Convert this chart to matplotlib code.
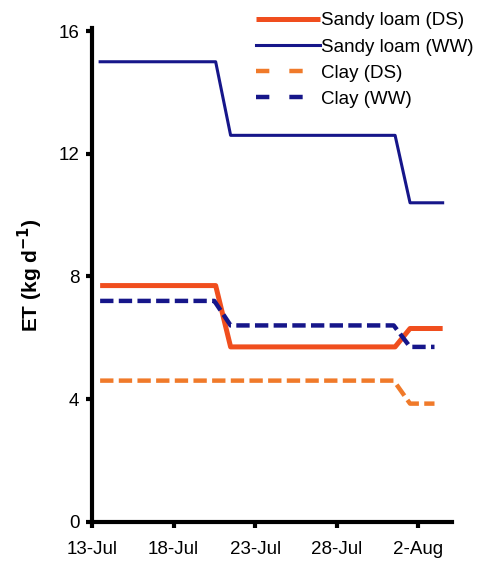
import matplotlib
matplotlib.use("Agg")
import matplotlib.pyplot as plt
import pandas as pd

plt.rcParams['font.family'] = ['Liberation Sans', 'DejaVu Sans']

# Data
sandy_dates = ["2013-07-13 12:00", "2013-07-20 14:00", "2013-07-21 12:00",
               "2013-07-31 14:00", "2013-08-01 12:00", "2013-08-03 12:00"]
sandy_ds = [7.7, 7.7, 5.7, 5.7, 6.3, 6.3]
sandy_ww = [15.0, 15.0, 12.6, 12.6, 10.4, 10.4]
clay_dates = ["2013-07-13 12:00", "2013-07-20 12:00", "2013-07-21 12:00",
              "2013-07-31 12:00", "2013-08-01 12:00", "2013-08-03 00:00"]
clay_ds = [4.6, 4.6, 4.6, 4.6, 3.85, 3.85]
clay_ww = [7.2, 7.2, 6.4, 6.4, 5.7, 5.7]
tick_dates = ["2013-07-13", "2013-07-18", "2013-07-23", "2013-07-28", "2013-08-02"]
tick_labels = ["13-Jul", "18-Jul", "23-Jul", "28-Jul", "2-Aug"]
y_ticks = [0, 4, 8, 12, 16]

sd = pd.to_datetime(sandy_dates)
cd = pd.to_datetime(clay_dates)

fig = plt.figure(figsize=(4.79, 5.72), dpi=100)
ax = fig.add_axes([0.192, 0.088, 0.752, 0.863])

c_sds = '#F04E1E'
c_cds = '#F07A2A'
c_ww = '#16168A'

ax.plot(sd, sandy_ds, color=c_sds, lw=3.6, label='Sandy loam (DS)', solid_capstyle='butt')
ax.plot(sd, sandy_ww, color=c_ww, lw=2.2, label='Sandy loam (WW)')
ax.plot(cd, clay_ds, color=c_cds, lw=3.2, ls=(0, (3.0, 1.2)), label='Clay (DS)')
ax.plot(cd, clay_ww, color=c_ww, lw=3.2, ls=(0, (3.0, 1.2)), label='Clay (WW)')

ax.set_xlim(pd.Timestamp("2013-07-13"), pd.Timestamp("2013-08-04 02:00"))
ax.set_ylim(0, 16.1)
ax.set_xticks(pd.to_datetime(tick_dates))
ax.set_xticklabels(tick_labels)
ax.set_yticks(y_ticks)

for s in ['top', 'right']:
    ax.spines[s].set_visible(False)
for s in ['left', 'bottom']:
    ax.spines[s].set_linewidth(3)
ax.tick_params(axis='both', labelsize=13.5, width=3, length=4, direction='out')
ax.tick_params(axis='x', pad=10)
ax.tick_params(axis='y', pad=5)

ax.set_ylabel('ET (kg d$^{\\mathbf{-1}}$)', fontsize=15, fontweight='bold', labelpad=10)

leg = ax.legend(loc='upper right', bbox_to_anchor=(1.08, 1.047), frameon=False,
                fontsize=13.5, handlelength=3.4, handletextpad=0.05,
                labelspacing=0.48, borderaxespad=0)
legl = leg.get_lines()
for ln in legl[2:]:
    ln.set_linestyle((0, (3.0, 4.5)))

fig.savefig("out.png", dpi=100)
